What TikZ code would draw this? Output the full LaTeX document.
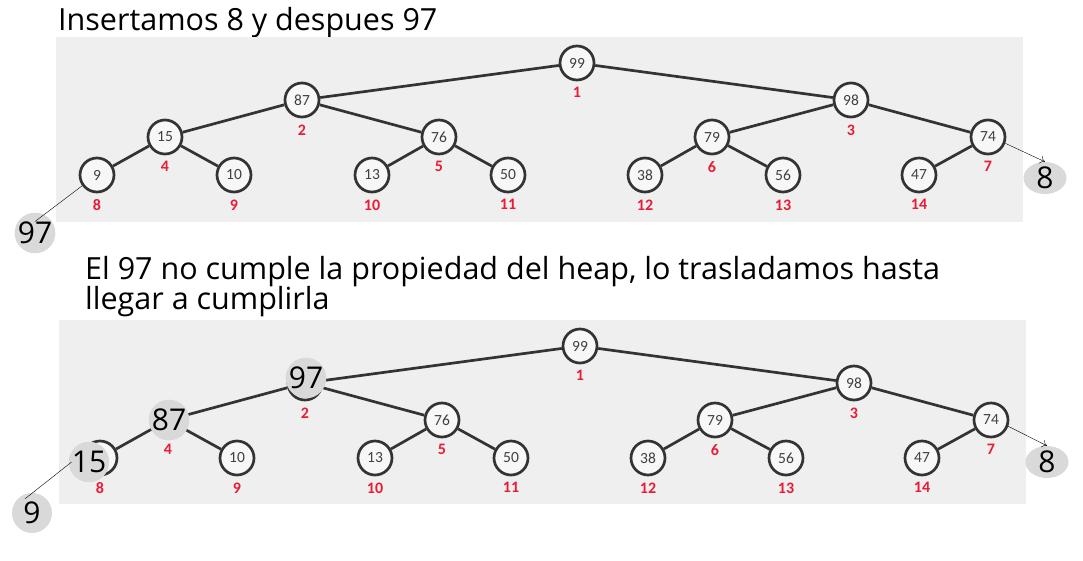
\documentclass[tikz,border=0pt]{standalone}
\usepackage{fontspec}
\setmainfont{Open Sans}
\newfontfamily\calib{Carlito}
\usetikzlibrary{arrows.meta,shapes.geometric}
\definecolor{panelgray}{RGB}{239,239,240}
\definecolor{bubblegray}{RGB}{217,217,217}
\definecolor{idxred}{RGB}{232,28,52}

\begin{document}
\begin{tikzpicture}[x=1pt,y=-1pt,>={To[length=5pt,width=8pt]},
  hnode/.style={circle,draw=black!80,line width=2.7pt,fill=white!50!panelgray,minimum size=34pt,inner sep=0pt,
    font=\calib\fontsize{15.5}{15.5}\selectfont,text=black!75},
  idx/.style={font=\calib\bfseries\fontsize{16}{16}\selectfont,text=idxred,inner sep=0pt},
  edge/.style={draw=black!80,line width=2.7pt},
  bubble/.style={circle,fill=bubblegray,minimum size=40pt,inner sep=0pt,font=\fontsize{30}{30}\selectfont},
  title/.style={anchor=base west,inner sep=0pt,font=\fontsize{30.5}{32}\selectfont}]
  \useasboundingbox (0,0) rectangle (1083,560);
  % titles
  \node[title] (ttop) at (58,30) {Insertamos 8 y despues 97};
  \node[title] (tbot1) at (85,279) {El 97 no cumple la propiedad del heap, lo trasladamos hasta};
  \node[title] (tbot2) at (85,309) {llegar a cumplirla};
  % gray panels
  \fill[panelgray] (56,37) rectangle (1023,222);
  \fill[panelgray] (59,320) rectangle (1026,504);
  % heap before
  \foreach \i/\x/\y/\v in {1/577/63/99, 2/302/100/87, 3/851/100/98, 4/165/137/15, 5/439/137/76,
    6/712/137/79, 7/988/137/74, 8/97/175/9, 9/234/175/10, 10/372/175/13, 11/508/175/50,
    12/645/175/38, 13/783/175/56, 14/919/175/47}
    \node[hnode,label={[idx,label distance=6pt]below:\i}] (t\i) at (\x,\y) {\v};
  \foreach \p/\c in {1/2,1/3,2/4,2/5,3/6,3/7,4/8,4/9,5/10,5/11,6/12,6/13,7/14}
    \draw[edge] (t\p) -- (t\c);
  \node[bubble] (g97a) at (35,233) {97};
  \node[bubble,ellipse,minimum width=43pt,minimum height=32pt] (g8a) at (1045,178) {8};
  \draw[thin] (t8.216) -- ([yshift=-9pt]g97a.north);
  \draw[thin,->] (t7.-20) -- (g8a.north);
  % heap after
  \begin{scope}[shift={(3,283)}]
    \foreach \i/\x/\y/\v in {1/577/63/99, 2/302/100/{}, 3/851/100/98, 4/165/137/{}, 5/439/137/76,
      6/712/137/79, 7/988/137/74, 8/97/175/{}, 9/234/175/10, 10/372/175/13, 11/508/175/50,
      12/645/175/38, 13/783/175/56, 14/919/175/47}
      \node[hnode,label={[idx,label distance=6pt]below:\i}] (b\i) at (\x,\y) {\v};
    \foreach \p/\c in {1/2,1/3,2/4,2/5,3/6,3/7,4/8,4/9,5/10,5/11,6/12,6/13,7/14}
      \draw[edge] (b\p) -- (b\c);
  \end{scope}
  \node[bubble] (g97b) at (306,378) {97};
  \node[bubble] (g87b) at (169,420) {87};
  \node[bubble] (g15b) at (89,462) {15};
  \node[bubble] (g9b) at (32,513) {9};
  \node[bubble,ellipse,minimum width=43pt,minimum height=32pt] (g8b) at (1047,462) {8};
  \draw[thin] ([xshift=3pt]g15b.west) -- ([xshift=-7pt,yshift=-6pt]g9b.north);
  \draw[thin,->] (b7.-20) -- (g8b.north);
\end{tikzpicture}
\end{document}
